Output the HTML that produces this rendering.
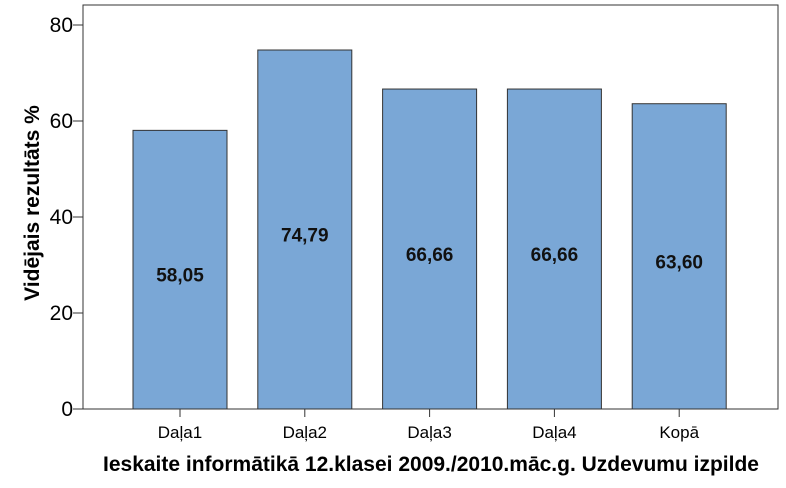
<!DOCTYPE html>
<html><head><meta charset="utf-8"><style>
body{margin:0;background:#fff;}
svg{display:block;font-family:"Liberation Sans",sans-serif;}
</style></head><body>
<svg width="786" height="488" viewBox="0 0 786 488">
<g id="chart"></g>
</svg>
<script>
const categories=["Daļa1","Daļa2","Daļa3","Daļa4","Kopā"];
const values=[58.05,74.79,66.66,66.66,63.60];
const valueLabels=["58,05","74,79","66,66","66,66","63,60"];
const yTicks=[0,20,40,60,80];
const L=83,R=778,T=5,B=409;
const y=v=>B-v*4.8;
const x=i=>180+i*124.8;
const bw=94;
const ns="http://www.w3.org/2000/svg";
const g=document.getElementById('chart');
function mk(t,a,txt){const e=document.createElementNS(ns,t);for(const k in a)e.setAttribute(k,a[k]);if(txt!=null)e.textContent=txt;g.appendChild(e);return e;}
const frame=mk('rect',{x:L,y:T,width:R-L,height:B-T,fill:'#fff',stroke:'#333','stroke-width':1});


yTicks.forEach(v=>{
 const t=mk('line',{x1:L-10,x2:L,y1:y(v),y2:y(v),stroke:'#333'});
 
 
 const l=mk('text',{x:L-10,y:y(v)+7,'text-anchor':'end','font-size':21,fill:'#000'},v);
 
 
});
values.forEach((v,i)=>{
 const b=mk('rect',{x:x(i)-bw/2,y:y(v),width:bw,height:B-y(v),fill:'#7aa7d6',stroke:'#333','stroke-width':1});
 
 
 const vl=mk('text',{x:x(i),y:(y(v)+B)/2+12,'text-anchor':'middle','font-size':19,'font-weight':'bold',fill:'#111'},valueLabels[i]);
 
 
 const t=mk('line',{x1:x(i),x2:x(i),y1:B,y2:B+8,stroke:'#333'});
 
 
 const cl=mk('text',{x:x(i),y:B+29,'text-anchor':'middle','font-size':17,fill:'#000'},categories[i]);
 
 
});
const xt=mk('text',{x:431,y:471,'text-anchor':'middle','font-size':21,'font-weight':'bold',fill:'#000'},"Ieskaite informātikā 12.klasei 2009./2010.māc.g. Uzdevumu izpilde");


const yt=mk('text',{x:0,y:0,'text-anchor':'middle','font-size':21,'font-weight':'bold',fill:'#000',transform:'translate(39,203) rotate(-90)'},"Vidējais rezultāts %");


</script>
</body></html>
